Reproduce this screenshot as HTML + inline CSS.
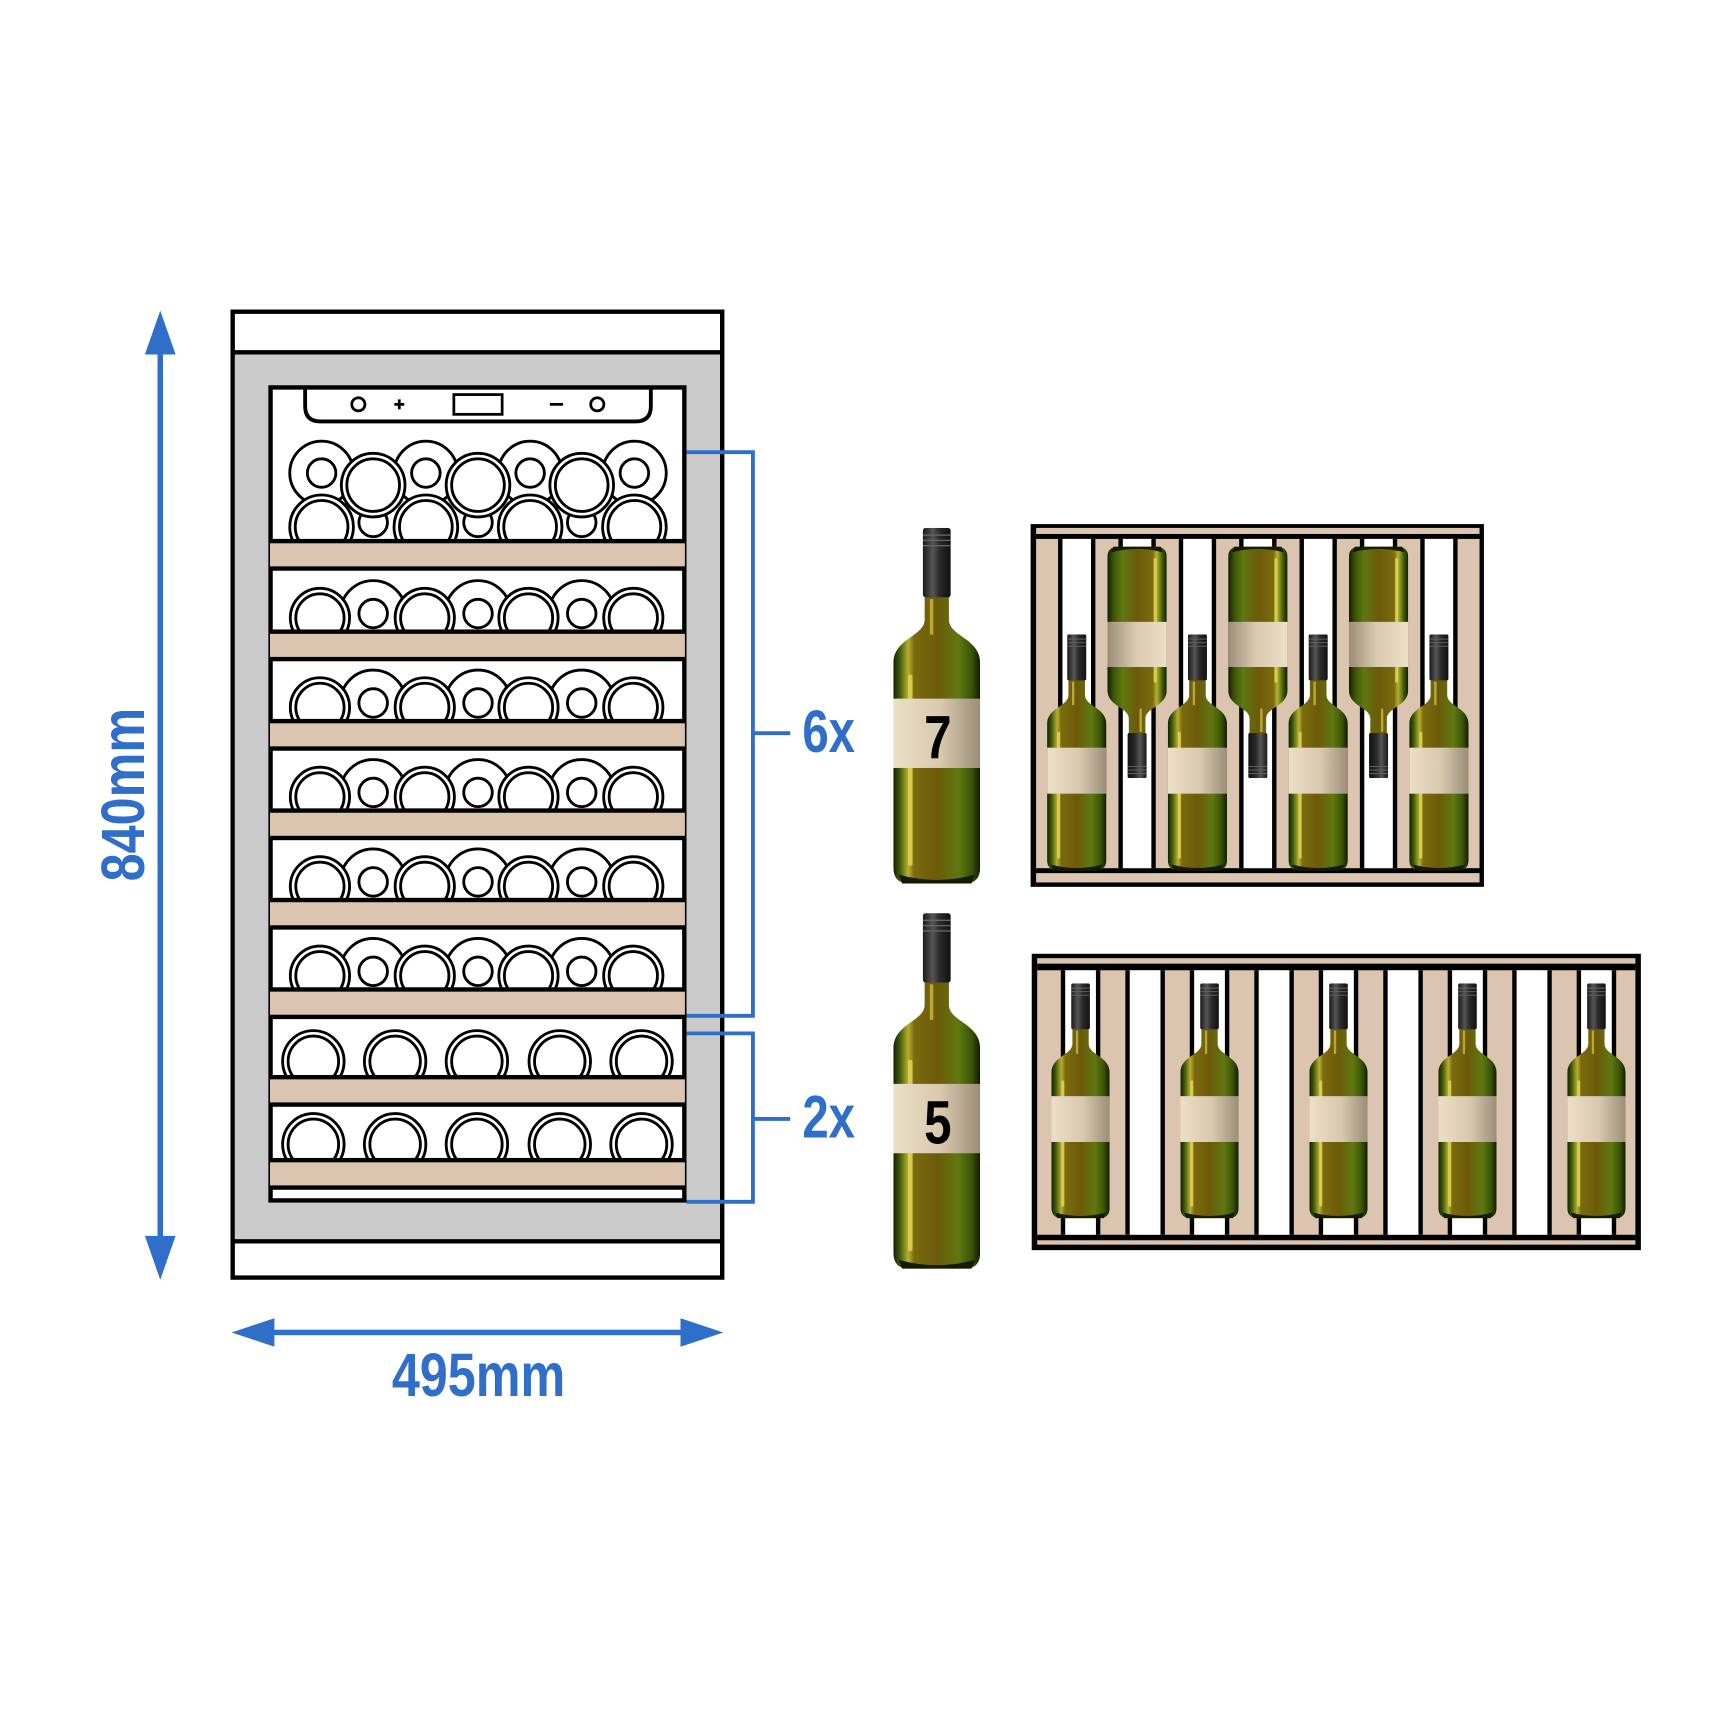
<!DOCTYPE html>
<html><head><meta charset="utf-8"><style>html,body{margin:0;padding:0;background:#fff}svg{display:block}</style></head>
<body>
<svg width="1721" height="1721" viewBox="0 0 1568 1568" xmlns="http://www.w3.org/2000/svg" xmlns:xlink="http://www.w3.org/1999/xlink">
<defs>
<linearGradient id="glass" x1="0" y1="0" x2="1" y2="0">
<stop offset="0" stop-color="#142004"/><stop offset="0.07" stop-color="#3a5808"/><stop offset="0.17" stop-color="#b8ae30"/><stop offset="0.24" stop-color="#7a6a0e"/><stop offset="0.5" stop-color="#6c5a0a"/><stop offset="0.75" stop-color="#5e7810"/><stop offset="0.9" stop-color="#3a5406"/><stop offset="1" stop-color="#121c03"/>
</linearGradient>
<linearGradient id="lab" x1="0" y1="0" x2="1" y2="0">
<stop offset="0" stop-color="#ece0c8"/><stop offset="0.55" stop-color="#d8c8ae"/><stop offset="1" stop-color="#9c8d7a"/>
</linearGradient>
<linearGradient id="cap" x1="0" y1="0" x2="1" y2="0">
<stop offset="0" stop-color="#1a1a1a"/><stop offset="0.35" stop-color="#555"/><stop offset="0.6" stop-color="#2a2a2a"/><stop offset="1" stop-color="#111"/>
</linearGradient>
<symbol id="bot" viewBox="0 0 100 400" preserveAspectRatio="none">
<path d="M36,76 L36,103 C36,122 0,124 0,152 L0,382 Q0,400 18,400 L82,400 Q100,400 100,382 L100,152 C100,124 64,122 64,103 L64,76 Z" fill="url(#glass)"/>
<rect x="17" y="165" width="5" height="215" rx="2" fill="#f0e460" opacity="0.7"/>
<rect x="42" y="80" width="4" height="40" fill="#e8dc50" opacity="0.6"/>
<path d="M6,390 Q50,402 94,390 L90,400 L10,400 Z" fill="#141a04"/>
<rect x="0" y="192" width="100" height="78" fill="url(#lab)"/>
<rect x="34" y="0" width="32" height="78" rx="3" fill="url(#cap)"/>
<g stroke="#666" stroke-width="1.5"><line x1="34" y1="8" x2="66" y2="8"/><line x1="34" y1="14" x2="66" y2="14"/><line x1="34" y1="20" x2="66" y2="20"/></g>
</symbol>
<g id="midrow" fill="#fff" stroke="#000" stroke-width="2.6">
<circle cx="340" cy="-4" r="30"/><circle cx="340" cy="-4" r="13"/>
<circle cx="435.5" cy="-4" r="30"/><circle cx="435.5" cy="-4" r="13"/>
<circle cx="530" cy="-4" r="30"/><circle cx="530" cy="-4" r="13"/>
<circle cx="291.5" cy="0" r="27"/><circle cx="291.5" cy="0" r="22"/>
<circle cx="387" cy="0" r="27"/><circle cx="387" cy="0" r="22"/>
<circle cx="481.5" cy="0" r="27"/><circle cx="481.5" cy="0" r="22"/>
<circle cx="577" cy="0" r="27"/><circle cx="577" cy="0" r="22"/>
</g>
<g id="lowrow" fill="#fff" stroke="#000" stroke-width="2.6">
<circle cx="285.5" cy="0" r="28"/><circle cx="285.5" cy="0" r="23"/>
<circle cx="360" cy="0" r="28"/><circle cx="360" cy="0" r="23"/>
<circle cx="434.5" cy="0" r="28"/><circle cx="434.5" cy="0" r="23"/>
<circle cx="510" cy="0" r="28"/><circle cx="510" cy="0" r="23"/>
<circle cx="584.5" cy="0" r="28"/><circle cx="584.5" cy="0" r="23"/>
</g>
<g id="shelf"><rect x="246" y="0" width="378" height="29" fill="#000"/><rect x="246" y="4" width="378" height="21" fill="#dcc5b0"/></g>
<g id="gap1"><rect x="-17" y="0" width="34" height="300" fill="#000"/><rect x="-13" y="0" width="26" height="300" fill="#fff"/></g>
<g id="gap2"><rect x="-18" y="0" width="36" height="241" fill="#000"/><rect x="-14" y="0" width="28" height="241" fill="#fff"/></g>
</defs>

<rect x="212" y="284" width="446" height="880" fill="#fff" stroke="#000" stroke-width="4"/>
<rect x="214" y="323" width="442" height="806" fill="#cbcbcb"/>
<line x1="212" y1="321" x2="658" y2="321" stroke="#000" stroke-width="4"/>
<line x1="212" y1="1131" x2="658" y2="1131" stroke="#000" stroke-width="4"/>
<rect x="246.5" y="353" width="377" height="740.7" fill="#fff" stroke="#000" stroke-width="4"/>

<path d="M278,353 L278,370 Q278,384 292,384 L579,384 Q593,384 593,370 L593,353" fill="none" stroke="#000" stroke-width="3.5"/>
<circle cx="326.5" cy="368.4" r="6" fill="none" stroke="#000" stroke-width="2.5"/>
<path d="M359.3,368.4 H368.3 M363.8,363.9 V372.9" stroke="#000" stroke-width="2.5"/>
<rect x="413.5" y="359.5" width="44" height="18" fill="none" stroke="#000" stroke-width="2.5"/>
<path d="M501,368.4 H513" stroke="#000" stroke-width="2.5"/>
<circle cx="544.2" cy="368.4" r="6" fill="none" stroke="#000" stroke-width="2.5"/>

<g fill="#fff" stroke="#000" stroke-width="2.6">
<circle cx="293" cy="431" r="29"/><circle cx="293" cy="431" r="13"/>
<circle cx="388" cy="431" r="29"/><circle cx="388" cy="431" r="13"/>
<circle cx="483" cy="431" r="29"/><circle cx="483" cy="431" r="13"/>
<circle cx="578" cy="431" r="29"/><circle cx="578" cy="431" r="13"/>
<circle cx="340" cy="476" r="13"/><circle cx="435.5" cy="476" r="13"/><circle cx="530" cy="476" r="13"/>
<circle cx="293" cy="480" r="29"/><circle cx="293" cy="480" r="24"/>
<circle cx="388" cy="480" r="29"/><circle cx="388" cy="480" r="24"/>
<circle cx="483" cy="480" r="29"/><circle cx="483" cy="480" r="24"/>
<circle cx="578" cy="480" r="29"/><circle cx="578" cy="480" r="24"/>
<circle cx="340" cy="442" r="29"/><circle cx="340" cy="442" r="24"/>
<circle cx="435.5" cy="442" r="29"/><circle cx="435.5" cy="442" r="24"/>
<circle cx="530" cy="442" r="29"/><circle cx="530" cy="442" r="24"/>
</g>
<use href="#shelf" y="491"/>

<use href="#midrow" y="563"/><use href="#shelf" y="573.5"/>
<use href="#midrow" y="644.5"/><use href="#shelf" y="655"/>
<use href="#midrow" y="726"/><use href="#shelf" y="736.5"/>
<use href="#midrow" y="807.5"/><use href="#shelf" y="818"/>
<use href="#midrow" y="889"/><use href="#shelf" y="899.5"/>
<use href="#lowrow" y="967"/><use href="#shelf" y="979.4"/>
<use href="#lowrow" y="1042.6"/><use href="#shelf" y="1055"/>

<g fill="none" stroke="#2f6fc9" stroke-width="3.5">
<path d="M625.5,412 H686 V925.5 H625.5"/>
<path d="M625.5,941.5 H686 V1095 H625.5"/>
<path d="M686,668 H720"/>
<path d="M686,1019.5 H720"/>
</g>
<g fill="#2f6fc9">
<rect x="143.5" y="315" width="5" height="818"/>
<path d="M146,283 L132,323 L160,323 Z"/>
<path d="M146,1166 L132,1126 L160,1126 Z"/>
<rect x="245" y="1211.5" width="380" height="5"/>
<path d="M211,1214 L250,1201 L250,1227 Z"/>
<path d="M659,1214 L620,1201 L620,1227 Z"/>
<g font-family="'Liberation Sans Narrow','Liberation Sans',sans-serif" font-weight="bold">
<text x="357" y="1272" font-size="56" textLength="158" lengthAdjust="spacingAndGlyphs">495mm</text>
<text transform="translate(131,803) rotate(-90)" x="0" y="0" font-size="56" textLength="158" lengthAdjust="spacingAndGlyphs">840mm</text>
<text x="731" y="685" font-size="55" textLength="48" lengthAdjust="spacingAndGlyphs">6x</text>
<text x="731" y="1036.5" font-size="55" textLength="48" lengthAdjust="spacingAndGlyphs">2x</text>
</g>
</g>

<use href="#bot" x="814" y="481" width="79" height="324"/>
<use href="#bot" x="814" y="832" width="79" height="324"/>
<g font-family="'Liberation Sans Narrow','Liberation Sans',sans-serif" font-weight="bold" fill="#000" font-size="56">
<text x="842" y="691" textLength="25" lengthAdjust="spacingAndGlyphs">7</text>
<text x="842" y="1042" textLength="25" lengthAdjust="spacingAndGlyphs">5</text>
</g>

<rect x="939" y="477.5" width="413" height="330.5" fill="#000"/>
<rect x="944" y="481" width="404" height="323" fill="#dcc5b0"/>
<rect x="944" y="486.5" width="404" height="4.5" fill="#000"/>
<rect x="944" y="791" width="404" height="4.5" fill="#000"/>
<use href="#gap1" x="981" y="491"/><use href="#gap1" x="1036" y="491"/><use href="#gap1" x="1091" y="491"/>
<use href="#gap1" x="1146" y="491"/><use href="#gap1" x="1201" y="491"/><use href="#gap1" x="1256" y="491"/><use href="#gap1" x="1311" y="491"/>
<use href="#bot" x="954" y="578" width="54" height="215"/>
<use href="#bot" x="1064" y="578" width="54" height="215"/>
<use href="#bot" x="1174" y="578" width="54" height="215"/>
<use href="#bot" x="1284" y="578" width="54" height="215"/>
<g transform="rotate(180 1036 603.5)"><use href="#bot" x="1009" y="498" width="54" height="211"/></g>
<g transform="rotate(180 1146 603.5)"><use href="#bot" x="1119" y="498" width="54" height="211"/></g>
<g transform="rotate(180 1256 603.5)"><use href="#bot" x="1229" y="498" width="54" height="211"/></g>

<rect x="940" y="869" width="555" height="270" fill="#000"/>
<rect x="945" y="873" width="545" height="261" fill="#dcc5b0"/>
<rect x="945" y="878" width="545" height="6" fill="#000"/>
<rect x="945" y="1125" width="545" height="5" fill="#000"/>
<use href="#gap2" x="984.5" y="884"/><use href="#gap2" x="1043.3" y="884"/><use href="#gap2" x="1102" y="884"/>
<use href="#gap2" x="1160.8" y="884"/><use href="#gap2" x="1219.5" y="884"/><use href="#gap2" x="1278.3" y="884"/>
<use href="#gap2" x="1337" y="884"/><use href="#gap2" x="1395.8" y="884"/><use href="#gap2" x="1454.5" y="884"/>
<use href="#bot" x="958" y="896" width="53" height="214"/>
<use href="#bot" x="1075.5" y="896" width="53" height="214"/>
<use href="#bot" x="1193" y="896" width="53" height="214"/>
<use href="#bot" x="1310.5" y="896" width="53" height="214"/>
<use href="#bot" x="1428" y="896" width="53" height="214"/>
</svg>
</body></html>
